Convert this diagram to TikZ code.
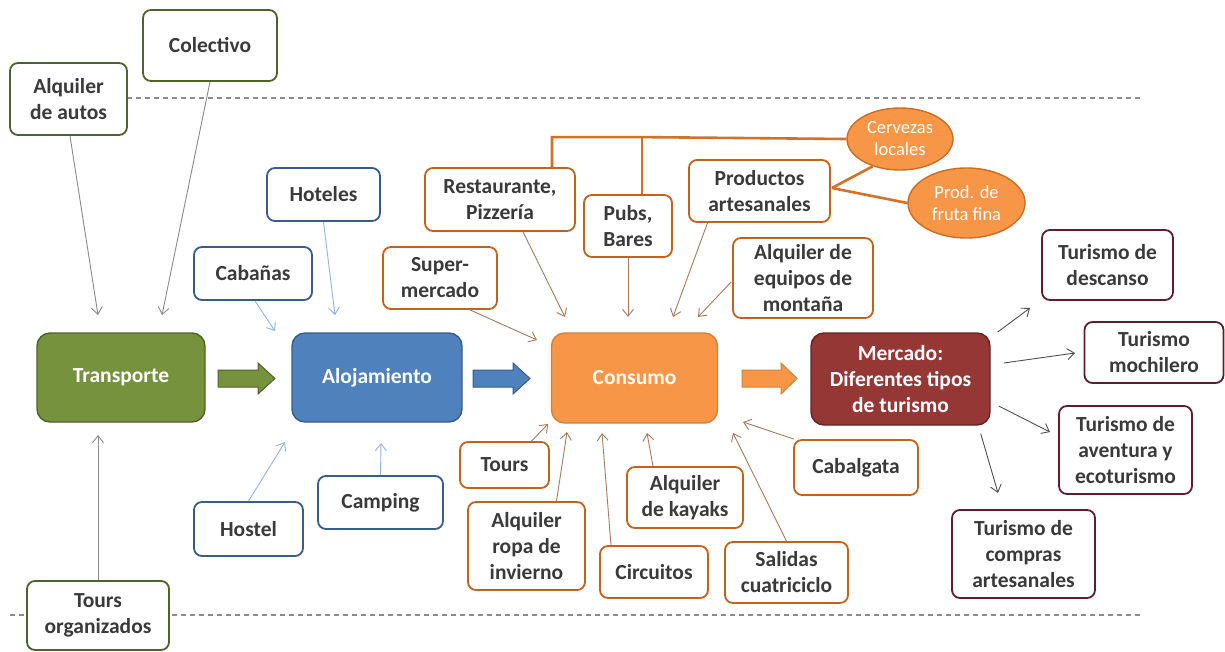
\documentclass[tikz,border=0pt]{standalone}
\usepackage{fontspec}
\setmainfont{Carlito}
\usetikzlibrary{arrows.meta,calc,shapes.geometric}
\definecolor{gfill}{HTML}{76923C}
\definecolor{gline}{HTML}{4F6228}
\definecolor{bfill}{HTML}{4F81BD}
\definecolor{bline}{HTML}{385D8A}
\definecolor{ofill}{HTML}{F79646}
\definecolor{oline}{HTML}{C4621A}
\definecolor{rfill}{HTML}{953735}
\definecolor{rline}{HTML}{632523}
\definecolor{mline}{HTML}{5E1E2E}
\definecolor{txt}{HTML}{3A3A3A}
\definecolor{ga}{HTML}{8A8A8A}
\definecolor{ba}{HTML}{8EB4E3}
\definecolor{oa}{HTML}{A87A5A}
\definecolor{ma}{HTML}{505050}
\definecolor{dash}{HTML}{8C8C8C}
\begin{document}
\begin{tikzpicture}[x=1pt,y=-1pt,
  base/.style={rounded corners=8pt,line width=1.8pt,fill=white,text=txt,align=center,inner sep=0pt,
    font=\fontsize{21.5}{26}\selectfont\bfseries},
  gbox/.style={base,draw=gline},
  bbox/.style={base,draw=bline},
  obox/.style={base,draw=oline},
  rbox/.style={base,draw=mline},
  mainbox/.style={rounded corners=13pt,line width=1.4pt,text=white,align=center,inner sep=0pt,
    font=\fontsize{21.5}{26}\selectfont\bfseries},
  oval/.style={ellipse,fill=ofill,draw=oline!80!ofill,line width=1.4pt,text=white,align=center,inner sep=0pt,
    font=\fontsize{18.5}{22}\selectfont},
  tip/.style={-{Straight Barb[length=7pt,width=11pt]},line width=0.9pt},
  garr/.style={tip,draw=ga},
  barr/.style={tip,draw=ba},
  oarr/.style={tip,draw=oa},
  marr/.style={tip,draw=ma},
  bracket/.style={draw=oline!70!ofill,line width=2.6pt},
  dline/.style={draw=dash,line width=1.3pt,dash pattern=on 5pt off 4pt},
  blockarrow/.style={line width=1pt}
]
\useasboundingbox (0,0) rectangle (1225,651);
\fill[white] (0,0) rectangle (1225,651);

% dashed lines
\coordinate (d1a) at (10,98); \coordinate (d1b) at (1140,98);
\coordinate (d2a) at (10,615); \coordinate (d2b) at (1140,615);
\draw[dline] (d1a) -- (d1b);
\draw[dline] (d2a) -- (d2b);

% main boxes
\node[mainbox,fill=gfill,draw=gline,minimum width=168pt,minimum height=89pt] (trans) at (121,377.5) {Transporte};
\node[mainbox,fill=bfill,draw=bline,minimum width=170pt,minimum height=89pt] (aloj) at (377,377.5) {Alojamiento};
\node[mainbox,fill=ofill,draw=ofill!85!black,minimum width=166pt,minimum height=90pt] (cons) at (634.5,378) {Consumo};
\node[mainbox,fill=rfill,draw=rline,minimum width=179pt,minimum height=92pt] (merc) at (900.5,379) {Mercado:\\Diferentes tipos\\de turismo};

% transport
\node[gbox,minimum width=134pt,minimum height=71pt] (colect) at (210,45.5) {Colectivo};
\node[gbox,minimum width=117pt,minimum height=72pt] (alq) at (68.5,99) {Alquiler\\de autos};
\node[gbox,minimum width=142pt,minimum height=69pt] (toursorg) at (98,615.5) {Tours\\organizados};

% lodging
\node[bbox,minimum width=113pt,minimum height=53pt] (hot) at (323.5,194.5) {Hoteles};
\node[bbox,minimum width=118pt,minimum height=53pt] (cab) at (253,273.5) {Cabañas};
\node[bbox,minimum width=109pt,minimum height=54pt] (hostel) at (248.5,529) {Hostel};
\node[bbox,minimum width=125pt,minimum height=53pt] (camp) at (380.5,502.5) {Camping};

% consumption
\node[obox,minimum width=150pt,minimum height=63pt] (rest) at (500,199.5) {Restaurante,\\Pizzería};
\node[obox,minimum width=88pt,minimum height=62pt] (pubs) at (628,226) {Pubs,\\Bares};
\node[obox,minimum width=141pt,minimum height=62pt] (prod) at (759.5,191) {Productos\\artesanales};
\node[obox,minimum width=140pt,minimum height=80pt] (equip) at (803,278) {Alquiler de\\equipos de\\montaña};
\node[obox,minimum width=114pt,minimum height=62pt] (super) at (440,278) {Super-\\mercado};
\node[obox,minimum width=89pt,minimum height=46pt] (tours) at (504.5,465) {Tours};
\node[obox,minimum width=117pt,minimum height=88pt] (ropa) at (526.5,546) {Alquiler\\ropa de\\invierno};
\node[obox,minimum width=108pt,minimum height=52pt] (circ) at (654,572) {Circuitos};
\node[obox,minimum width=116pt,minimum height=61pt] (kayak) at (685,497.5) {Alquiler\\de kayaks};
\node[obox,minimum width=123pt,minimum height=61pt] (salidas) at (786.5,572.5) {Salidas\\cuatriciclo};
\node[obox,minimum width=124pt,minimum height=55pt] (cabal) at (856,467.5) {Cabalgata};

% ovals
\node[oval,minimum width=106pt,minimum height=62pt] (cerv) at (900,139) {Cervezas\\locales};
\node[oval,minimum width=117pt,minimum height=70pt] (fruta) at (966.5,203) {Prod. de\\fruta fina};

% market
\node[rbox,minimum width=131pt,minimum height=70pt] (desc) at (1107.5,265) {Turismo de\\descanso};
\node[rbox,minimum width=139pt,minimum height=61pt] (moch) at (1154,352.5) {Turismo\\mochilero};
\node[rbox,minimum width=133pt,minimum height=88pt] (avent) at (1125.5,450) {Turismo de\\aventura y\\ecoturismo};
\node[rbox,minimum width=143pt,minimum height=88pt] (compras) at (1023.5,554) {Turismo de\\compras\\artesanales};

% block arrows
\filldraw[blockarrow,fill=gfill,draw=gline] (218,370) -- (258,370) -- (258,363) -- (275,378.5) -- (258,394) -- (258,387) -- (218,387) -- cycle;
\filldraw[blockarrow,fill=bfill,draw=bline] (473,370) -- (513,370) -- (513,363) -- (530,378.5) -- (513,394) -- (513,387) -- (473,387) -- cycle;
\filldraw[blockarrow,fill=ofill,draw=ofill!85!black] (742,370) -- (781,370) -- (781,363) -- (797,378.5) -- (781,394) -- (781,387) -- (742,387) -- cycle;

% arrow end coordinates
\coordinate (e1) at (98,315);
\coordinate (e2) at (162,315);
\coordinate (e3) at (335,315);
\coordinate (e4) at (275,331);
\coordinate (e5) at (98,435);
\coordinate (e6) at (285,442);
\coordinate (e7) at (381,443);
\coordinate (c1) at (537,340);
\coordinate (c2) at (565,317);
\coordinate (c3) at (628,317);
\coordinate (c4) at (673,317);
\coordinate (c5) at (698,317);
\coordinate (c6) at (548,424);
\coordinate (c7) at (567,432);
\coordinate (c8) at (602,433);
\coordinate (c9) at (647,433);
\coordinate (c10) at (733,433);
\coordinate (c11) at (743,422);
\coordinate (m1) at (1030,308);
\coordinate (m2) at (1075,353);
\coordinate (m3) at (1050,432);
\coordinate (m4) at (998,493);

% transport arrows
\draw[garr] ($(alq.south)+(1.5,0)$) -- (e1);
\draw[garr] (colect.south) -- (e2);
\draw[garr] (toursorg.north) -- (e5);
% lodging arrows
\draw[barr] (hot.south) -- (e3);
\draw[barr] ($(cab.south)+(2,0)$) -- (e4);
\draw[barr] (hostel.north) -- (e6);
\draw[barr] (camp.north) -- (e7);
% consumption arrows
\draw[oarr] ($(super.south)+(30,0)$) -- (c1);
\draw[oarr] ($(rest.south)+(23,0)$) -- (c2);
\draw[oarr] (pubs.south) -- (c3);
\draw[oarr] ($(prod.south)+(-52,0)$) -- (c4);
\draw[oarr] ($(equip.west)+(-1,4)$) -- (c5);
\draw[oarr] ($(tours.north)+(27,0)$) -- (c6);
\draw[oarr] ($(ropa.north)+(30,0)$) -- (c7);
\draw[oarr] ($(circ.north)+(-43,0)$) -- (c8);
\draw[oarr] ($(kayak.north)+(-32,0)$) -- (c9);
\draw[oarr] (salidas.north) -- (c10);
\draw[oarr] ($(cabal.north)+(-62,0)$) -- (c11);
% market arrows
\draw[marr] ($(merc.east)+(7,-47)$) -- (m1);
\draw[marr] ($(merc.east)+(13,-16)$) -- (m2);
\draw[marr] ($(merc.east)+(8,27)$) -- (m3);
\draw[marr] ($(merc.south east)+(-10,8)$) -- (m4);

% bracket
\coordinate (bl) at ($(rest.north)+(52,-30)$);
\coordinate (bm) at ($(pubs.north)+(14,-57)$);
\draw[bracket] ($(rest.north)+(52,0)$) -- (bl) -- (bm) -- (cerv.west);
\draw[bracket] ($(pubs.north)+(14,0)$) -- (bm);
\draw[bracket] ($(prod.east)+(1,-3)$) -- (cerv.225);
\draw[bracket] ($(prod.east)+(1,-3)$) -- (fruta.west);
\end{tikzpicture}
\end{document}
